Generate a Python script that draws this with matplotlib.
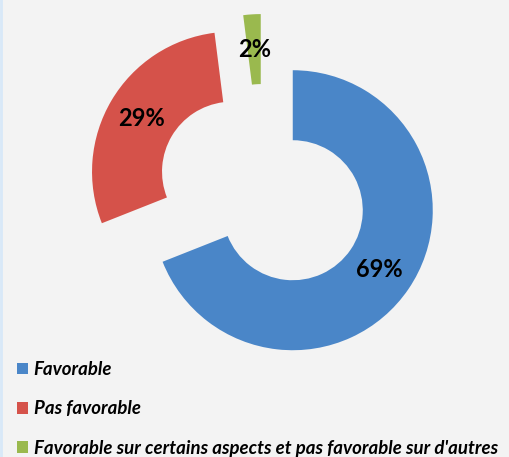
import matplotlib
matplotlib.use("Agg")
import matplotlib.pyplot as plt
from matplotlib.patches import Patch

categories = ["Favorable", "Pas favorable",
              "Favorable sur certains aspects et pas favorable sur d'autres"]
values = [69, 29, 2]
labels_pct = ["69%", "29%", "2%"]
colors = ["#4a86c8", "#d5524a", "#9ab94e"]

W, H = 509, 457
fig = plt.figure(figsize=(W / 100, H / 100), dpi=100, facecolor="#f3f3f3")

# axes: center at (263,190) px from top-left, radius 140 px -> 1 unit
cx, cy, R = 263, 190, 140
half = 1.5 * R
ax = fig.add_axes([(cx - half) / W, 1 - (cy + half) / H, 2 * half / W, 2 * half / H])
ax.set_facecolor("#f3f3f3")

wedges, texts, autotexts = ax.pie(
    values,
    colors=colors,
    startangle=90,
    counterclock=False,
    explode=[0.257] * 3,
    radius=1.0,
    wedgeprops=dict(width=0.5, edgecolor="none"),
    autopct=lambda p: "",
    pctdistance=0.75,
)
for at, lab in zip(autotexts, labels_pct):
    at.set_text(lab)
    at.set_fontsize(17)
    at.set_fontweight("bold")
    at.set_family("Lato")
    at.set_color("black")

ax.set_xlim(-1.5, 1.5)
ax.set_ylim(-1.5, 1.5)
ax.set_aspect("equal")
ax.axis("off")

handles = [Patch(facecolor=c, edgecolor="none") for c in colors]
leg = fig.legend(
    handles, categories,
    loc="upper left",
    bbox_to_anchor=(17 / W, 1 - 361 / H),
    frameon=False,
    prop=dict(family="Lato", weight="bold", style="italic", size=13.4),
    handlelength=0.6, handleheight=0.6, handletextpad=0.3,
    labelspacing=1.2, borderaxespad=0, borderpad=0,
)

# thin light border at left edge
fig.add_artist(plt.Line2D([0.5 / W, 0.5 / W], [0, 1], color="#d8e8f8", lw=2,
                          transform=fig.transFigure))

fig.savefig("out.png", dpi=100, facecolor=fig.get_facecolor())
